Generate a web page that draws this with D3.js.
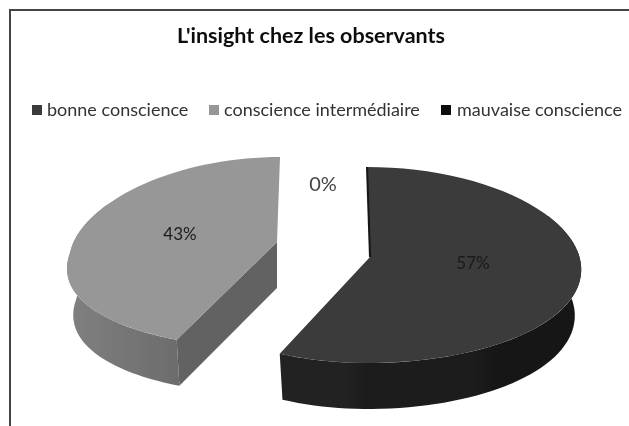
<!DOCTYPE html>
<html>
<head>
<meta charset="utf-8">
<script src="https://cdnjs.cloudflare.com/ajax/libs/d3/7.8.5/d3.min.js"></script>
<style>
html, body { margin: 0; padding: 0; background: #fff; }
svg { display: block; }
text { font-family: Lato, "Open Sans", sans-serif; }
</style>
</head>
<body>
<svg id="chart" width="629" height="426"></svg>
<script>
var titleText = "L'insight chez les observants";
var categories = ["bonne conscience", "conscience intermédiaire", "mauvaise conscience"];
var values = [57, 43, 0];
var valueLabels = ["57%", "43%", "0%"];

var width = 629,
	height = 426,
	depth = 46,
	bottomShrink = 0.97,
	topColors = ["#3a3a3a", "#979797", "#0c0c0c"],
	legendX = [37, 214, 446],
	legendTextX = [47, 224, 457],
	sideFrom = Math.PI / 3,
	sideTo = Math.PI * 5 / 3;

// where each slice sits: the exploded pie has its own ellipse per slice
var sliceGeom = [
	{cx: 367, cy: 265, rx: 214, ry: 98, apexDx: 3, apexDy: -8, skewLow: -10, skewUp: -10, labelX: 473, labelY: 263, labelSize: 17},
	{cx: 280, cy: 253, rx: 210, ry: 96, apexDx: -3, apexDy: -11, skewLow: 36, skewUp: 20, labelX: 180, labelY: 234, labelSize: 17},
	{cx: 323, cy: 184, rx: 0, ry: 0, apexDx: 0, apexDy: 0, skewLow: 0, skewUp: 0, labelX: 323, labelY: 184, labelSize: 20}
];

var svg = d3.select("#chart");
var defs = svg.append("defs");

defs.append("filter").attr("id", "scan")
	.attr("x", "-5%").attr("y", "-5%").attr("width", "110%").attr("height", "110%")
	.append("feGaussianBlur").attr("stdDeviation", 0.6);

var grayGrad = defs.append("linearGradient").attr("id", "graySide");
grayGrad.append("stop").attr("offset", "0%").attr("stop-color", "#808080");
grayGrad.append("stop").attr("offset", "100%").attr("stop-color", "#6c6c6c");

var darkGrad = defs.append("linearGradient").attr("id", "darkSide");
darkGrad.append("stop").attr("offset", "0%").attr("stop-color", "#232323");
darkGrad.append("stop").attr("offset", "100%").attr("stop-color", "#151515");

var root = svg.append("g").attr("filter", "url(#scan)");

// frame, only top and left are visible in the picture
root.append("path")
	.attr("d", d3.line()([[width, 10], [10, 10], [10, height]]))
	.attr("fill", "none")
	.attr("stroke", "#444")
	.attr("stroke-width", 2);

root.append("text")
	.attr("x", 311).attr("y", 43)
	.attr("text-anchor", "middle")
	.attr("font-size", 21.5)
	.attr("font-weight", 700)
	.attr("fill", "#111")
	.text(titleText);

var legend = root.selectAll("g.legend")
	.data(categories)
	.enter()
	.append("g")
	.attr("class", "legend");

legend.append("rect")
	.attr("x", function(d, i) { return legendX[i] - 5; })
	.attr("y", 105)
	.attr("width", 10).attr("height", 10)
	.attr("fill", function(d, i) { return topColors[i]; });

legend.append("text")
	.attr("x", function(d, i) { return legendTextX[i]; })
	.attr("y", 116)
	.attr("font-size", 18)
	.attr("fill", "#333")
	.text(function(d) { return d; });

var pie = d3.pie().sort(null)(values);

function project(g, a, drop, shrink) {
	var c = Math.cos(a),
		skew = c < 0 ? g.skewLow : g.skewUp;
	return [
		g.cx + g.rx * shrink * Math.sin(a) + skew * c * Math.abs(Math.sin(a)),
		g.cy - g.ry * c + drop
	];
}

function arcPoints(g, a0, a1, drop, shrink) {
	return d3.range(0, 61).map(function(i) {
		return project(g, a0 + (a1 - a0) * i / 60, drop, shrink);
	});
}

var line = d3.line();

function drawSlice(i, sideFill, wallFill) {
	var g = sliceGeom[i],
		a0 = pie[i].startAngle,
		a1 = pie[i].endAngle,
		apex = [g.cx + g.apexDx, g.cy + g.apexDy],
		top = arcPoints(g, a0, a1, 0, 1),
		sideA0 = Math.max(a0, sideFrom),
		sideA1 = Math.min(a1, sideTo),
		sideTop = arcPoints(g, sideA0, sideA1, 0, 1),
		sideBottom = arcPoints(g, sideA0, sideA1, depth, bottomShrink);

	// outer side, only the front part of the rim, top face goes over it
	root.append("path")
		.attr("d", line(sideTop.concat(sideBottom.slice().reverse())) + "Z")
		.attr("fill", sideFill);

	if (wallFill) {
		root.append("path")
			.attr("d", line([apex, top[0], sideBottom[0], [apex[0], apex[1] + depth]]) + "Z")
			.attr("fill", wallFill);
	}

	root.append("path")
		.attr("d", line([apex].concat(top)) + "Z")
		.attr("fill", topColors[i]);
}

drawSlice(1, "url(#graySide)", "#626262");
drawSlice(0, "url(#darkSide)", null);

// thin inner wall showing along the first edge of the dark slice
var dark = sliceGeom[0],
	darkStart = project(dark, pie[0].startAngle, 0, 1);
root.append("path")
	.attr("d", line([darkStart, [dark.cx + dark.apexDx, dark.cy + dark.apexDy]]))
	.attr("stroke", "#141414")
	.attr("stroke-width", 2)
	.attr("fill", "none");

root.selectAll("text.value")
	.data(valueLabels)
	.enter()
	.append("text")
	.attr("class", "value")
	.attr("x", function(d, i) { return sliceGeom[i].labelX; })
	.attr("y", function(d, i) { return sliceGeom[i].labelY + sliceGeom[i].labelSize * 0.36; })
	.attr("text-anchor", "middle")
	.attr("font-size", function(d, i) { return sliceGeom[i].labelSize; })
	.attr("fill", function(d, i) { return i == 2 ? "#444" : "#1a1a1a"; })
	.text(function(d) { return d; });
</script>
</body>
</html>
